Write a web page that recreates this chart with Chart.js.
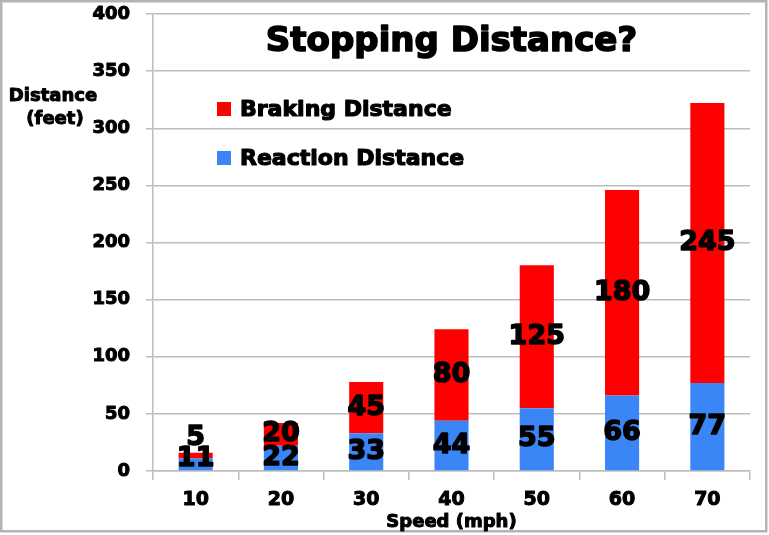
<!DOCTYPE html>
<html>
<head>
<meta charset="utf-8">
<script src="https://cdn.jsdelivr.net/npm/chart.js@4.4.1/dist/chart.umd.min.js"></script>
<style>
  html, body { margin: 0; padding: 0; background: #fff; }
  #wrap { width: 769px; height: 535px; position: relative; }
</style>
</head>
<body>
<div id="wrap"><canvas id="stopChart" width="769" height="535"></canvas></div>
<script>
const speeds = ["10", "20", "30", "40", "50", "60", "70"];
const reaction = [11, 22, 33, 44, 55, 66, 77];
const braking = [5, 20, 45, 80, 125, 180, 245];
const yTicks = [0, 50, 100, 150, 200, 250, 300, 350, 400];

const FONT = "'DejaVu Sans', sans-serif";
const gridGray = "#bdbdbd";

// heavy text: fill plus a thin stroke of the same colour
function heavyText(ctx, text, x, y, w) {
    ctx.lineWidth = w;
    ctx.strokeStyle = ctx.fillStyle;
    ctx.lineJoin = "round";
    ctx.strokeText(text, x, y);
    ctx.fillText(text, x, y);
}

// frame, title, legend and y title drawn by hand
const decorPlugin = {
    id: "decor",
    beforeDraw(chart) {
        let ctx = chart.ctx;
        ctx.save();
        ctx.fillStyle = "#fff";
        ctx.fillRect(0, 0, chart.width, chart.height);
        ctx.strokeStyle = "#b4b4b4";
        ctx.lineWidth = 2.5;
        ctx.strokeRect(1.25, 1.25, 765, 530);
        ctx.restore();
    },
    afterDraw(chart) {
        let ctx = chart.ctx;
        let area = chart.chartArea;
        ctx.save();
        ctx.fillStyle = "#000";
        ctx.textAlign = "center";
        ctx.textBaseline = "middle";
        ctx.font = "bold 34px " + FONT;
        heavyText(ctx, "Stopping Distance?", (area.left + area.right) / 2, 42, 1.6);

        ctx.font = "bold 18px " + FONT;
        heavyText(ctx, "Distance", 53, 96, 1);
        heavyText(ctx, "(feet)", 55, 119, 1);

        heavyText(ctx, "Speed (mph)", (area.left + area.right) / 2, 522, 1);

        // legend, top entry = top of stack
        let items = [
            { label: "Braking Distance", color: "#ff0000", y: 109 },
            { label: "Reaction Distance", color: "#3b86f7", y: 158 }
        ];
        ctx.textAlign = "left";
        ctx.font = "bold 22px " + FONT;
        items.forEach(function (it) {
            ctx.fillStyle = it.color;
            ctx.fillRect(217, it.y - 7, 14, 14);
            ctx.fillStyle = "#000";
            heavyText(ctx, it.label, 240, it.y + 1, 1.2);
        });
        ctx.restore();
    },
    afterDatasetsDraw(chart) {
        let ctx = chart.ctx;
        ctx.save();
        ctx.fillStyle = "#000";
        ctx.font = "bold 27px " + FONT;
        ctx.textAlign = "center";
        ctx.textBaseline = "middle";
        chart.data.datasets.forEach(function (ds, di) {
            let meta = chart.getDatasetMeta(di);
            meta.data.forEach(function (bar, i) {
                let p = bar.getProps(["x", "y", "base"], true);
                let h = Math.abs(p.base - p.y);
                let y = (p.y + p.base) / 2;
                if (di === chart.data.datasets.length - 1 && h < 20) {
                    y = p.y - 15;
                }
                y = Math.min(y, chart.chartArea.bottom - 12);
                heavyText(ctx, String(ds.data[i]), p.x, y, 1.5);
            });
        });
        ctx.restore();
    }
};

let ctx = document.getElementById("stopChart").getContext("2d");
let stopChart = new Chart(ctx, {
    type: "bar",
    data: {
        labels: speeds,
        datasets: [
            {
                label: "Reaction Distance",
                data: reaction,
                backgroundColor: "#3b86f7",
                barPercentage: 0.4,
                categoryPercentage: 1.0
            },
            {
                label: "Braking Distance",
                data: braking,
                backgroundColor: "#ff0000",
                barPercentage: 0.4,
                categoryPercentage: 1.0
            }
        ]
    },
    options: {
        responsive: false,
        animation: false,
        devicePixelRatio: 1,
        layout: { padding: { left: 0, right: 19, top: 14, bottom: 0 } },
        plugins: {
            legend: { display: false },
            tooltip: { enabled: false },
            title: { display: false }
        },
        scales: {
            x: {
                stacked: true,
                grid: {
                    drawOnChartArea: false,
                    drawTicks: true,
                    tickLength: 9,
                    color: gridGray,
                    lineWidth: 1.5
                },
                border: { display: true, color: gridGray, width: 1.5 },
                ticks: {
                    color: "#000",
                    font: { family: FONT, size: 19, weight: "bold" },
                    padding: 9,
                    textStrokeColor: "#000",
                    textStrokeWidth: 1
                },
                afterFit(scale) {
                    scale.height = 64;
                    scale.paddingLeft = 0;
                    scale.paddingRight = 0;
                }
            },
            y: {
                stacked: true,
                min: 0,
                max: 400,
                afterBuildTicks(scale) {
                    scale.ticks = yTicks.map(function (v) { return { value: v }; });
                },
                grid: {
                    color: gridGray,
                    lineWidth: 1.5,
                    tickLength: 7
                },
                border: { display: true, color: gridGray, width: 1.5 },
                ticks: {
                    color: "#000",
                    font: { family: FONT, size: 18, weight: "bold" },
                    padding: 16,
                    textStrokeColor: "#000",
                    textStrokeWidth: 1
                },
                afterFit(scale) {
                    scale.width = 153;
                    scale.paddingTop = 0;
                    scale.paddingBottom = 0;
                }
            }
        }
    },
    plugins: [decorPlugin]
});
</script>
</body>
</html>
